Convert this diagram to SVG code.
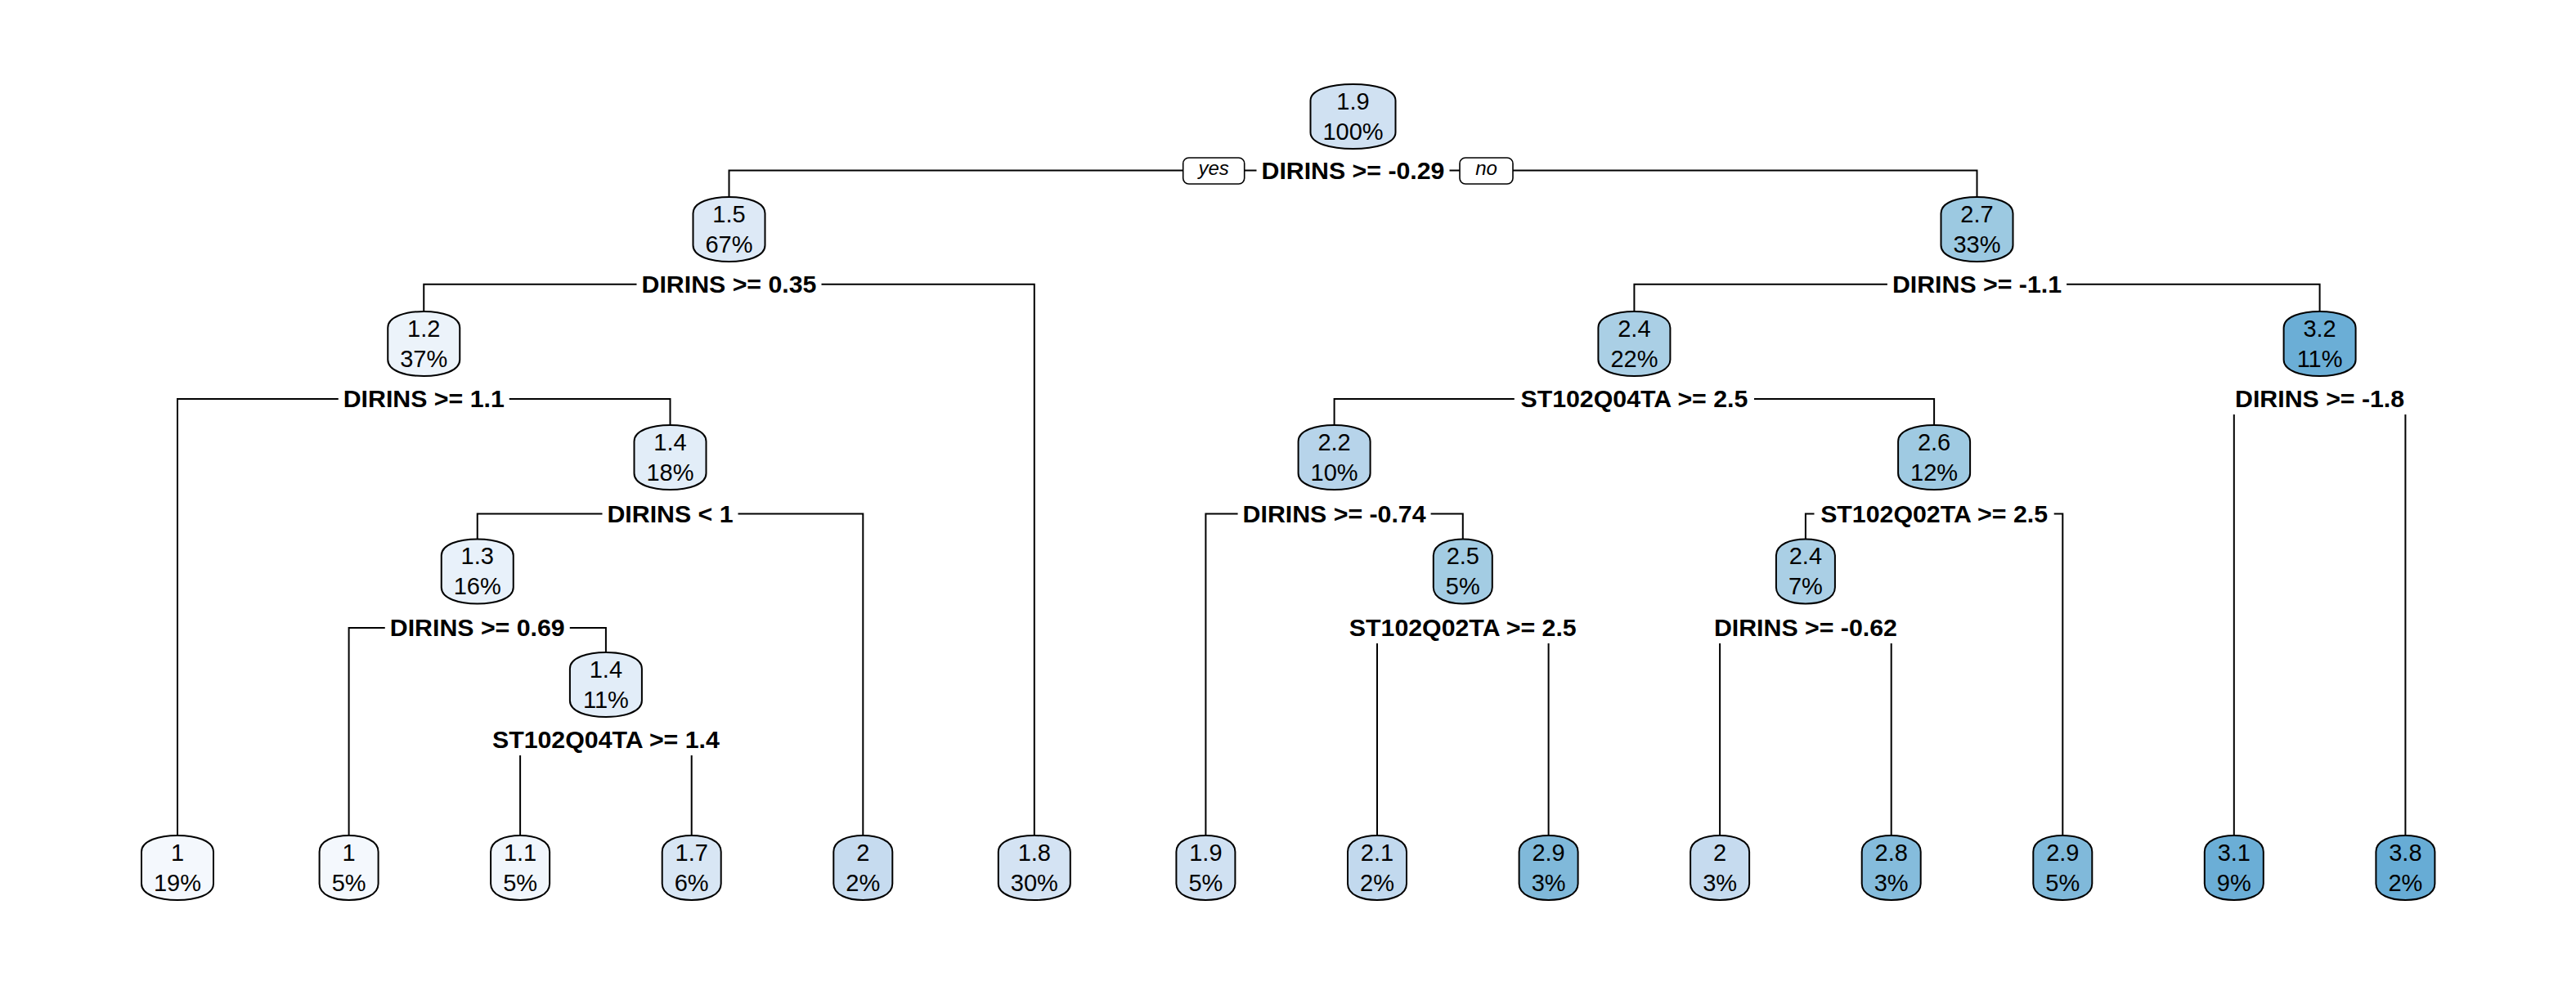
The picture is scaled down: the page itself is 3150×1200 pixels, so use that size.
<svg xmlns="http://www.w3.org/2000/svg" xmlns:xlink="http://www.w3.org/1999/xlink" width="3150" height="1200" viewBox="0 0 3150 1200">
<style>
.bg{fill:#ffffff}
.shape{stroke:#000;stroke-width:2}
.nt{font-family:"Liberation Sans",Arial,sans-serif;font-size:29px;text-anchor:middle;fill:#000}
.lbl{font-family:"Liberation Sans",Arial,sans-serif;font-size:30.3px;font-weight:bold;text-anchor:middle;fill:#000}
.yn{font-family:"Liberation Sans",Arial,sans-serif;font-size:24px;font-style:italic;text-anchor:middle;fill:#000}
.ynbox{fill:#fff;stroke:#000;stroke-width:1.6}
.conn path{fill:none;stroke:#000;stroke-width:2}
</style>
<defs>
<path id="s104" d="M-52,20 C-52,6 -26,0 0,0 C26,0 52,6 52,20 V59 C52,73 26,79 0,79 C-26,79 -52,73 -52,59 Z"/>
<path id="s88" d="M-44,20 C-44,6 -22,0 0,0 C22,0 44,6 44,20 V59 C44,73 22,79 0,79 C-22,79 -44,73 -44,59 Z"/>
<path id="s72" d="M-36,20 C-36,6 -18,0 0,0 C18,0 36,6 36,20 V59 C36,73 18,79 0,79 C-18,79 -36,73 -36,59 Z"/>
</defs>
<rect class="bg" x="0" y="0" width="3150" height="1200"/>

<g id="connectors" class="conn">
<path d="M891.5,241 V208.5 H1446.7 M1521.7,208.5 H1536.5 M1772.5,208.5 H1785 M1850,208.5 H2417.5 V241"/>
<path d="M518.25,381 V347.8 H778.5 M1004.5,347.8 H1264.8 V1022 M1998.4,381 V347.8 H2307.9 M2527.1,347.8 H2836.6 V381"/>
<path d="M217,1022 V488 H413.75 M622.75,488 H819.5 V520 M1631.6,520 V488 H1851.8 M2145,488 H2365.1 V520 M2731.8,507 V1022 M2941.4,507 V1022"/>
<path d="M583.75,659.5 V628.5 H736.5 M902.5,628.5 H1055.3 V1022 M1474.4,1022 V628.5 H1513.6 M1749.6,628.5 H1788.8 V659.5 M2207.9,659.5 V628.5 H2218.5 M2511.7,628.5 H2522.3 V1022"/>
<path d="M426.6,1022 V768 H470.75 M696.75,768 H740.9 V798 M1684,787 V1022 M1893.6,787 V1022 M2103.1,787 V1022 M2312.7,787 V1022"/>
<path d="M636.1,924 V1022 M845.7,924 V1022"/>
<rect class="ynbox" x="1446.7" y="193" width="75" height="32" rx="7"/>
<text class="yn" x="1484.2" y="214">yes</text>
<rect class="ynbox" x="1785" y="193" width="65" height="32" rx="7"/>
<text class="yn" x="1817.5" y="214">no</text>
</g>

<g id="n1"><use href="#s104" x="1654.5" y="103" class="shape" fill="#D0E1F2"/><text class="nt" x="1654.5" y="133.5">1.9</text><text class="nt" x="1654.5" y="170.5">100%</text><text class="lbl" x="1654.5" y="218.5">DIRINS &gt;= -0.29</text></g>

<g id="n2"><use href="#s88" x="891.5" y="241" class="shape" fill="#DDE9F6"/><text class="nt" x="891.5" y="271.5">1.5</text><text class="nt" x="891.5" y="308.5">67%</text><text class="lbl" x="891.5" y="357.8">DIRINS &gt;= 0.35</text></g>
<g id="n3"><use href="#s88" x="2417.5" y="241" class="shape" fill="#9CC9E1"/><text class="nt" x="2417.5" y="271.5">2.7</text><text class="nt" x="2417.5" y="308.5">33%</text><text class="lbl" x="2417.5" y="357.8">DIRINS &gt;= -1.1</text></g>

<g id="n4"><use href="#s88" x="518.25" y="381" class="shape" fill="#ECF3FA"/><text class="nt" x="518.25" y="411.5">1.2</text><text class="nt" x="518.25" y="448.5">37%</text><text class="lbl" x="518.25" y="498">DIRINS &gt;= 1.1</text></g>
<g id="n6"><use href="#s88" x="1998.4" y="381" class="shape" fill="#AACFE5"/><text class="nt" x="1998.4" y="411.5">2.4</text><text class="nt" x="1998.4" y="448.5">22%</text><text class="lbl" x="1998.4" y="498">ST102Q04TA &gt;= 2.5</text></g>
<g id="n7"><use href="#s88" x="2836.6" y="381" class="shape" fill="#6BAED6"/><text class="nt" x="2836.6" y="411.5">3.2</text><text class="nt" x="2836.6" y="448.5">11%</text><text class="lbl" x="2836.6" y="498">DIRINS &gt;= -1.8</text></g>

<g id="n9"><use href="#s88" x="819.5" y="520" class="shape" fill="#E2EDF8"/><text class="nt" x="819.5" y="550.5">1.4</text><text class="nt" x="819.5" y="587.5">18%</text><text class="lbl" x="819.5" y="638.5">DIRINS &lt; 1</text></g>
<g id="n12"><use href="#s88" x="1631.6" y="520" class="shape" fill="#B7D4EA"/><text class="nt" x="1631.6" y="550.5">2.2</text><text class="nt" x="1631.6" y="587.5">10%</text><text class="lbl" x="1631.6" y="638.5">DIRINS &gt;= -0.74</text></g>
<g id="n13"><use href="#s88" x="2365.1" y="520" class="shape" fill="#9FCAE2"/><text class="nt" x="2365.1" y="550.5">2.6</text><text class="nt" x="2365.1" y="587.5">12%</text><text class="lbl" x="2365.1" y="638.5">ST102Q02TA &gt;= 2.5</text></g>

<g id="n18"><use href="#s88" x="583.75" y="659.5" class="shape" fill="#E8F1FA"/><text class="nt" x="583.75" y="690">1.3</text><text class="nt" x="583.75" y="727">16%</text><text class="lbl" x="583.75" y="778">DIRINS &gt;= 0.69</text></g>
<g id="n25"><use href="#s72" x="1788.8" y="659.5" class="shape" fill="#A3CCE3"/><text class="nt" x="1788.8" y="690">2.5</text><text class="nt" x="1788.8" y="727">5%</text><text class="lbl" x="1788.8" y="778">ST102Q02TA &gt;= 2.5</text></g>
<g id="n26"><use href="#s72" x="2207.9" y="659.5" class="shape" fill="#AACFE5"/><text class="nt" x="2207.9" y="690">2.4</text><text class="nt" x="2207.9" y="727">7%</text><text class="lbl" x="2207.9" y="778">DIRINS &gt;= -0.62</text></g>

<g id="n37"><use href="#s88" x="740.9" y="798" class="shape" fill="#E2EDF8"/><text class="nt" x="740.9" y="828.5">1.4</text><text class="nt" x="740.9" y="865.5">11%</text><text class="lbl" x="740.9" y="915">ST102Q04TA &gt;= 1.4</text></g>

<g id="leaf1"><use href="#s88" x="217" y="1022" class="shape" fill="#F4F8FD"/><text class="nt" x="217" y="1052.5">1</text><text class="nt" x="217" y="1089.5">19%</text></g>
<g id="leaf2"><use href="#s72" x="426.6" y="1022" class="shape" fill="#F4F8FD"/><text class="nt" x="426.6" y="1052.5">1</text><text class="nt" x="426.6" y="1089.5">5%</text></g>
<g id="leaf3"><use href="#s72" x="636.1" y="1022" class="shape" fill="#F1F6FC"/><text class="nt" x="636.1" y="1052.5">1.1</text><text class="nt" x="636.1" y="1089.5">5%</text></g>
<g id="leaf4"><use href="#s72" x="845.7" y="1022" class="shape" fill="#D8E6F4"/><text class="nt" x="845.7" y="1052.5">1.7</text><text class="nt" x="845.7" y="1089.5">6%</text></g>
<g id="leaf5"><use href="#s72" x="1055.3" y="1022" class="shape" fill="#C6DBEF"/><text class="nt" x="1055.3" y="1052.5">2</text><text class="nt" x="1055.3" y="1089.5">2%</text></g>
<g id="leaf6"><use href="#s88" x="1264.8" y="1022" class="shape" fill="#D4E3F3"/><text class="nt" x="1264.8" y="1052.5">1.8</text><text class="nt" x="1264.8" y="1089.5">30%</text></g>
<g id="leaf7"><use href="#s72" x="1474.4" y="1022" class="shape" fill="#D0E1F2"/><text class="nt" x="1474.4" y="1052.5">1.9</text><text class="nt" x="1474.4" y="1089.5">5%</text></g>
<g id="leaf8"><use href="#s72" x="1684" y="1022" class="shape" fill="#C2D9EE"/><text class="nt" x="1684" y="1052.5">2.1</text><text class="nt" x="1684" y="1089.5">2%</text></g>
<g id="leaf9"><use href="#s72" x="1893.6" y="1022" class="shape" fill="#80B9DA"/><text class="nt" x="1893.6" y="1052.5">2.9</text><text class="nt" x="1893.6" y="1089.5">3%</text></g>
<g id="leaf10"><use href="#s72" x="2103.1" y="1022" class="shape" fill="#C6DBEF"/><text class="nt" x="2103.1" y="1052.5">2</text><text class="nt" x="2103.1" y="1089.5">3%</text></g>
<g id="leaf11"><use href="#s72" x="2312.7" y="1022" class="shape" fill="#85BCDC"/><text class="nt" x="2312.7" y="1052.5">2.8</text><text class="nt" x="2312.7" y="1089.5">3%</text></g>
<g id="leaf12"><use href="#s72" x="2522.3" y="1022" class="shape" fill="#80B9DA"/><text class="nt" x="2522.3" y="1052.5">2.9</text><text class="nt" x="2522.3" y="1089.5">5%</text></g>
<g id="leaf13"><use href="#s72" x="2731.8" y="1022" class="shape" fill="#6BAED6"/><text class="nt" x="2731.8" y="1052.5">3.1</text><text class="nt" x="2731.8" y="1089.5">9%</text></g>
<g id="leaf14"><use href="#s72" x="2941.4" y="1022" class="shape" fill="#67ACD5"/><text class="nt" x="2941.4" y="1052.5">3.8</text><text class="nt" x="2941.4" y="1089.5">2%</text></g>
</svg>
